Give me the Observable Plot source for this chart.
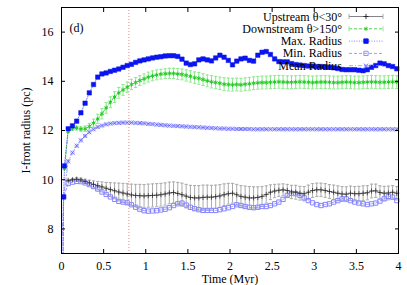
<!DOCTYPE html>
<html><head><meta charset="utf-8">
<script src="https://cdn.jsdelivr.net/npm/d3@7"></script>
<script src="https://cdn.jsdelivr.net/npm/@observablehq/plot@0.6"></script>
<style>body{margin:0;background:#fff}</style>
</head><body><div id="chart"></div>
<script>
const times = [0,0.025,0.035,0.08,0.13,0.18,0.23,0.28,0.33,0.38,0.43,0.48,0.53,0.58,0.63,0.68,0.73,0.78,0.83,0.88,0.93,0.98,
1.03,1.08,1.13,1.18,1.23,1.28,1.33,1.38,1.43,1.48,1.53,1.58,1.63,1.68,1.73,1.78,1.83,1.88,1.93,1.98,
2.03,2.08,2.13,2.18,2.23,2.28,2.33,2.38,2.43,2.48,2.53,2.58,2.63,2.68,2.73,2.78,2.83,2.88,2.93,2.98,
3.03,3.08,3.13,3.18,3.23,3.28,3.33,3.38,3.43,3.48,3.53,3.58,3.63,3.68,3.73,3.78,3.83,3.88,3.93,3.98];

const maxRadius = [0,9.3,10.56,12.07,12.19,12.38,12.72,13.11,13.53,13.87,14.17,14.30,14.34,14.40,14.45,14.50,14.57,14.64,14.69,14.77,14.83,14.87,
14.91,14.95,14.98,15.00,15.03,15.04,15.04,15.01,14.90,14.74,14.68,14.71,14.87,14.91,14.87,14.83,14.95,15.06,14.98,14.85,
14.67,14.82,14.91,14.94,14.85,14.82,15.06,15.18,15.21,15.09,14.91,14.80,14.79,14.79,14.72,14.68,14.66,14.64,14.62,14.62,
14.60,14.60,14.58,14.57,14.55,14.52,14.48,14.47,14.47,14.47,14.45,14.43,14.47,14.57,14.64,14.74,14.71,14.64,14.60,14.51];

const minRadius = [0,9.3,null,9.84,9.90,9.93,9.92,9.87,9.80,9.72,9.62,9.50,9.40,9.30,9.20,9.12,9.09,9.06,8.98,8.88,8.80,8.74,
8.72,8.73,8.74,8.77,8.80,8.86,8.95,9.02,9.05,8.97,8.88,8.82,8.78,8.75,8.75,8.75,8.75,8.78,8.82,8.86,
8.91,8.98,8.95,8.91,8.88,8.86,8.88,8.91,8.91,8.95,9.02,9.09,9.20,9.36,9.45,9.43,9.36,9.26,9.15,9.06,
8.99,8.95,8.99,9.02,9.09,9.15,9.22,9.22,9.15,9.09,9.05,9.02,8.99,9.02,9.05,9.13,9.22,9.32,9.29,9.15];

const meanRadius = [7,9.3,null,10.75,11.10,11.38,11.60,11.78,11.93,12.05,12.14,12.20,12.25,12.28,12.30,12.31,12.32,12.32,12.32,12.31,12.30,12.29,
12.27,12.26,12.24,12.23,12.21,12.20,12.19,12.18,12.17,12.16,12.15,12.14,12.13,12.12,12.11,12.10,12.09,12.08,12.08,12.07,
12.07,12.06,12.06,12.06,12.06,12.05,12.05,12.05,12.05,12.05,12.05,12.05,12.05,12.05,12.05,12.05,12.05,12.05,12.05,12.05,
12.05,12.05,12.05,12.05,12.05,12.05,12.05,12.05,12.05,12.05,12.05,12.05,12.05,12.05,12.05,12.05,12.05,12.05,12.05,12.05];

const downstream = [null,null,10.45,11.97,12.08,12.10,12.06,12.07,12.16,12.30,12.47,12.68,12.92,13.15,13.36,13.53,13.65,13.76,13.87,13.95,14.03,14.10,
14.17,14.22,14.26,14.29,14.31,14.32,14.32,14.30,14.28,14.24,14.20,14.15,14.12,14.07,14.02,13.98,13.95,13.92,13.88,13.87,
13.86,13.87,13.86,13.88,13.90,13.92,13.94,13.95,13.95,13.96,13.97,13.98,13.97,13.96,13.96,13.97,13.98,13.97,13.96,13.95,
13.96,13.97,13.97,13.96,13.95,13.95,13.96,13.97,13.96,13.95,13.95,13.96,13.97,13.98,13.97,13.96,13.96,13.97,13.98,13.97];
const downstreamErr = [0,0,0.02,0.05,0.07,0.08,0.09,0.11,0.13,0.16,0.19,0.21,0.22,0.22,0.22,0.22,0.22,0.21,0.21,0.20,0.20,0.20,
0.20,0.20,0.20,0.20,0.20,0.21,0.21,0.22,0.22,0.23,0.23,0.23,0.24,0.24,0.24,0.25,0.25,0.25,0.26,0.26,
0.26,0.26,0.26,0.26,0.26,0.26,0.26,0.26,0.26,0.26,0.26,0.26,0.26,0.26,0.26,0.26,0.26,0.26,0.26,0.26,
0.26,0.26,0.26,0.26,0.26,0.26,0.26,0.26,0.26,0.26,0.26,0.26,0.26,0.26,0.26,0.26,0.26,0.26,0.26,0.26];

const upstream = [null,null,null,9.97,10.00,10.02,9.99,9.93,9.87,9.81,9.76,9.71,9.65,9.60,9.55,9.50,9.46,9.42,9.38,9.36,9.35,9.34,
9.35,9.36,9.37,9.39,9.42,9.46,9.48,9.44,9.39,9.33,9.28,9.26,9.26,9.28,9.29,9.29,9.31,9.34,9.39,9.43,
9.45,9.39,9.32,9.29,9.26,9.26,9.28,9.32,9.40,9.49,9.54,9.57,9.59,9.56,9.50,9.49,9.45,9.43,9.49,9.56,
9.59,9.59,9.56,9.52,9.49,9.45,9.42,9.41,9.45,9.43,9.43,9.45,9.47,9.54,9.55,9.48,9.45,9.46,9.49,9.45];
const upstreamErr = [0,0,0,0.04,0.05,0.06,0.07,0.09,0.11,0.14,0.17,0.20,0.24,0.28,0.32,0.36,0.39,0.42,0.44,0.45,0.46,0.46,
0.47,0.47,0.47,0.46,0.45,0.44,0.43,0.45,0.47,0.48,0.49,0.50,0.50,0.50,0.49,0.48,0.47,0.46,0.44,0.42,
0.40,0.42,0.44,0.45,0.46,0.45,0.43,0.40,0.35,0.30,0.27,0.25,0.24,0.25,0.27,0.28,0.28,0.29,0.29,0.28,
0.27,0.27,0.28,0.28,0.29,0.30,0.30,0.30,0.29,0.29,0.30,0.30,0.29,0.28,0.27,0.27,0.28,0.28,0.27,0.27];

const xTicks = [0,0.5,1,1.5,2,2.5,3,3.5,4];
const xTickLabels = ["0","0.5","1","1.5","2","2.5","3","3.5","4"];
const yTicks = [8,10,12,14,16];
const yTickLabels = ["8","10","12","14","16"];
const markerTime = [0.8];
const legendLabels = ["Upstream \u03b8<30\u00b0","Downstream \u03b8>150\u00b0","Max. Radius","Min. Radius","Mean Radius"];
const panelLabel = "(d)";

function rows(vals, errs) {
  return times.map((t, i) => ({t, v: vals[i], e: errs ? errs[i] : 0})).filter(d => d.v != null);
}
const up = rows(upstream, upstreamErr);
const down = rows(downstream, downstreamErr);
const mx = rows(maxRadius);
const mn = rows(minRadius);
const mean = rows(meanRadius);
const upPts = up, downPts = down.filter(d => d.t > 0.03);
const mxPts = mx.filter(d => d.t > 0), mnPts = mn.filter(d => d.t > 0), meanPts = mean.filter(d => d.t > 0.05);

const cap = {draw(ctx, size) { const w = Math.sqrt(size / Math.PI); ctx.moveTo(-w, 0); ctx.lineTo(w, 0); }};

const C = {
  up: "#222222", upLine: "#666666", upBar: "#ababab",
  down: "#22cc22", downBar: "#8ce88c",
  max: "#0a14f0", maxLine: "#6a6aff",
  min: "#8585ff", mean: "#5050ff", meanLine: "#8a8aff",
  vline: "#e88a8a"
};

const plot = Plot.plot({
  width: 407, height: 285,
  marginLeft: 61, marginRight: 9, marginTop: 7, marginBottom: 32,
  style: {fontFamily: "'Liberation Serif', 'Times New Roman', serif", fontSize: "12px", background: "white", color: "black", overflow: "visible"},
  x: {domain: [0, 4]},
  y: {domain: [7, 17]},
  marks: [
    Plot.ruleX(markerTime, {stroke: C.vline, strokeDasharray: "1,2", strokeWidth: 1}),
    // upstream error bars
    Plot.ruleX(up, {x: "t", y1: d => d.v - d.e, y2: d => d.v + d.e, stroke: C.upBar, strokeWidth: 1, clip: true}),
    Plot.dot(up, {x: "t", y: d => d.v - d.e, symbol: cap, r: 1.6, stroke: C.upBar, strokeWidth: 1}),
    Plot.dot(up, {x: "t", y: d => d.v + d.e, symbol: cap, r: 1.6, stroke: C.upBar, strokeWidth: 1}),
    // downstream error bars
    Plot.ruleX(down, {x: "t", y1: d => d.v - d.e, y2: d => d.v + d.e, stroke: C.downBar, strokeWidth: 1, clip: true}),
    Plot.dot(down, {x: "t", y: d => d.v - d.e, symbol: cap, r: 1.6, stroke: C.downBar, strokeWidth: 1}),
    Plot.dot(down, {x: "t", y: d => d.v + d.e, symbol: cap, r: 1.6, stroke: C.downBar, strokeWidth: 1}),
    // lines
    Plot.line(up, {x: "t", y: "v", stroke: C.upLine, strokeWidth: 0.6, clip: true}),
    Plot.line(down, {x: "t", y: "v", stroke: C.down, strokeWidth: 0.8, strokeDasharray: "3,2", clip: true}),
    Plot.line(mean, {x: "t", y: "v", stroke: C.meanLine, strokeWidth: 0.8, strokeDasharray: "4,2,1,2", clip: true}),
    Plot.line(mn, {x: "t", y: "v", stroke: C.min, strokeWidth: 0.8, strokeDasharray: "3,2", clip: true}),
    Plot.line(mx, {x: "t", y: "v", stroke: C.maxLine, strokeWidth: 0.9, strokeDasharray: "1,1.5", clip: true}),
    // points
    Plot.dot(meanPts, {x: "t", y: "v", symbol: "times", r: 2.0, stroke: C.mean, strokeWidth: 0.8}),
    Plot.dot(meanPts, {x: "t", y: "v", symbol: "circle", r: 1.7, stroke: C.meanLine, strokeWidth: 0.6}),
    Plot.dot(mnPts, {x: "t", y: "v", symbol: "square", r: 2.4, stroke: C.min, fill: "none", strokeWidth: 1}),
    Plot.dot(upPts, {x: "t", y: "v", symbol: "plus", r: 1.8, stroke: C.up, strokeWidth: 0.7}),
    Plot.dot(downPts, {x: "t", y: "v", symbol: "asterisk", r: 2.0, stroke: C.down, strokeWidth: 1}),
    Plot.dot(mxPts, {x: "t", y: "v", symbol: "square", r: 2.5, fill: C.max, stroke: C.max, strokeWidth: 0.5}),
    // frame & axes
    Plot.frame({stroke: "black", strokeWidth: 1}),
    Plot.axisX({ticks: xTicks, anchor: "bottom", tickSize: -4, tickFormat: () => "", label: null}),
    Plot.axisX({ticks: xTicks, anchor: "top", tickSize: -4, tickFormat: () => "", label: null}),
    Plot.axisY({ticks: yTicks, anchor: "left", tickSize: -4, tickFormat: () => "", label: null}),
    Plot.axisY({ticks: yTicks, anchor: "right", tickSize: -4, tickFormat: () => "", label: null}),
    Plot.axisX({ticks: xTicks, anchor: "bottom", tickSize: 0, tickPadding: 8, tickFormat: d => xTickLabels[xTicks.indexOf(d)],
      label: "Time (Myr)", labelAnchor: "center", labelOffset: 29, labelArrow: false, fontSize: 12}),
    Plot.axisY({ticks: yTicks, anchor: "left", tickSize: 0, tickPadding: 8, tickFormat: d => yTickLabels[yTicks.indexOf(d)],
      label: "I-front radius (pc)", labelAnchor: "center", labelOffset: 40, labelArrow: false, fontSize: 12}),
    Plot.text([panelLabel], {frameAnchor: "top-left", dx: 8, dy: 16, text: d => d, fontSize: 12, textAnchor: "start"})
  ]
});

const svg = d3.select(plot);
const g = svg.append("g").attr("font-family", "'Liberation Serif', 'Times New Roman', serif").attr("font-size", 12);
const rowY = i => 16.5 + 12.3 * i;
const lx0 = 349, lx1 = 383, lxm = 366, tx = 342;
const styles = [
  {line: C.upLine, dash: null, cap: C.upBar, sym: d3.symbolPlus, symStroke: C.up, fill: "none", r: 1.8},
  {line: C.down, dash: "3,2", cap: C.downBar, sym: d3.symbolAsterisk, symStroke: C.down, fill: "none", r: 2},
  {line: C.maxLine, dash: "1,1.5", cap: null, sym: d3.symbolSquare, symStroke: C.max, fill: C.max, r: 2.5},
  {line: C.min, dash: "3,2", cap: null, sym: d3.symbolSquare, symStroke: C.min, fill: "none", r: 2.4},
  {line: C.meanLine, dash: "4,2,1,2", cap: null, sym: d3.symbolTimes, symStroke: C.mean, fill: "none", r: 2}
];
legendLabels.forEach((lab, i) => {
  const y = rowY(i), s = styles[i];
  g.append("text").attr("x", tx).attr("y", y + 4).attr("text-anchor", "end").attr("fill", "black").text(lab);
  g.append("line").attr("x1", lx0).attr("x2", lx1).attr("y1", y).attr("y2", y)
    .attr("stroke", s.line).attr("stroke-width", 0.8).attr("stroke-dasharray", s.dash);
  if (s.cap) {
    [lx0, lx1].forEach(x => g.append("line").attr("x1", x).attr("x2", x).attr("y1", y - 2.5).attr("y2", y + 2.5).attr("stroke", s.cap));
  }
  g.append("path").attr("transform", `translate(${lxm},${y})`)
    .attr("d", d3.symbol(s.sym, s.r * s.r * Math.PI)())
    .attr("stroke", s.symStroke).attr("fill", s.fill).attr("stroke-width", 0.9);
});

document.getElementById("chart").appendChild(plot);
</script>
</body></html>
